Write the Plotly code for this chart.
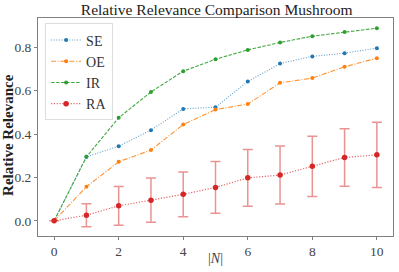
import plotly.graph_objects as go

N = list(range(11))
se = [0.0, 0.295, 0.344, 0.418, 0.516, 0.524, 0.642, 0.725, 0.758, 0.773, 0.796]
oe = [0.0, 0.157, 0.272, 0.326, 0.444, 0.513, 0.538, 0.636, 0.658, 0.710, 0.750]
ir = [0.0, 0.295, 0.475, 0.594, 0.690, 0.745, 0.788, 0.822, 0.851, 0.870, 0.888]
ra = [0.0, 0.026, 0.069, 0.095, 0.122, 0.154, 0.198, 0.211, 0.251, 0.292, 0.304]
ra_err = [0.0, 0.053, 0.089, 0.102, 0.103, 0.119, 0.131, 0.134, 0.139, 0.133, 0.150]
x_ticks = [0, 2, 4, 6, 8, 10]
y_ticks = [0.0, 0.2, 0.4, 0.6, 0.8]
y_tick_labels = ["0.0", "0.2", "0.4", "0.6", "0.8"]

FONT = "Liberation Serif, DejaVu Serif, serif"

fig = go.Figure()
fig.add_trace(go.Scatter(
    x=N, y=se, name="SE", mode="lines+markers",
    line=dict(color="rgba(31,119,180,0.7)", width=1.1, dash="1px,1.6px"),
    marker=dict(color="#1f77b4", size=4)))
fig.add_trace(go.Scatter(
    x=N, y=oe, name="OE", mode="lines+markers",
    line=dict(color="rgba(255,127,14,0.85)", width=1.1, dash="5px,1.6px,1px,1.6px"),
    marker=dict(color="#ff7f0e", size=4)))
fig.add_trace(go.Scatter(
    x=N, y=ir, name="IR", mode="lines+markers",
    line=dict(color="rgba(44,160,44,0.9)", width=1.1, dash="3.5px,1.5px"),
    marker=dict(color="#2ca02c", size=4)))
fig.add_trace(go.Scatter(
    x=N, y=ra, name="RA", mode="lines+markers",
    line=dict(color="rgba(214,39,40,0.7)", width=1.2, dash="1.2px,1.6px"),
    marker=dict(color="#d62728", size=5.5),
    error_y=dict(type="data", array=ra_err, visible=True,
                 color="rgba(214,39,40,0.5)", thickness=1.5, width=5)))

fig.update_layout(
    width=399, height=272,
    margin=dict(l=38, r=6, t=18, b=36, autoexpand=False),
    paper_bgcolor="white", plot_bgcolor="white",
    font=dict(family=FONT, size=13, color="#333333"),
    title=dict(text="Relative Relevance Comparison Mushroom", x=0.543, xanchor="center",
               y=0.963, yanchor="middle", font=dict(size=15.5, color="#222222")),
    showlegend=True,
    legend=dict(x=0.02, y=0.975, xanchor="left", yanchor="top",
                bordercolor="#dddddd", borderwidth=1, bgcolor="rgba(255,255,255,0.8)",
                font=dict(size=14, color="#333333"), itemwidth=30,
                tracegroupgap=0),
    xaxis=dict(range=[-0.5, 10.5], tickvals=x_ticks, showgrid=False, zeroline=False,
               showline=True, linecolor="#808080", linewidth=1, mirror=True,
               ticks="outside", ticklen=3, tickcolor="#808080", automargin=False,
               tickfont=dict(size=13.5, color="#444444")),
    yaxis=dict(range=[-0.07, 0.935], tickvals=y_ticks, ticktext=y_tick_labels,
               showgrid=False, zeroline=False,
               showline=True, linecolor="#808080", linewidth=1, mirror=True,
               ticks="outside", ticklen=3, tickcolor="#808080", automargin=False,
               tickfont=dict(size=13.5, color="#444444")),
    annotations=[
        dict(text="|<i>N</i>|", xref="paper", yref="paper", x=0.5, y=-0.101,
             xanchor="center", yanchor="middle", showarrow=False,
             font=dict(size=14, color="#444444")),
        dict(text="<b>Relative Relevance</b>", xref="paper", yref="paper", x=-0.085, y=0.463,
             xanchor="center", yanchor="middle", showarrow=False, textangle=-90,
             font=dict(size=15, color="#222222")),
    ],
)

fig.write_html("out.html", config={"displayModeBar": False},
               post_script="document.body.style.margin='0px';")
